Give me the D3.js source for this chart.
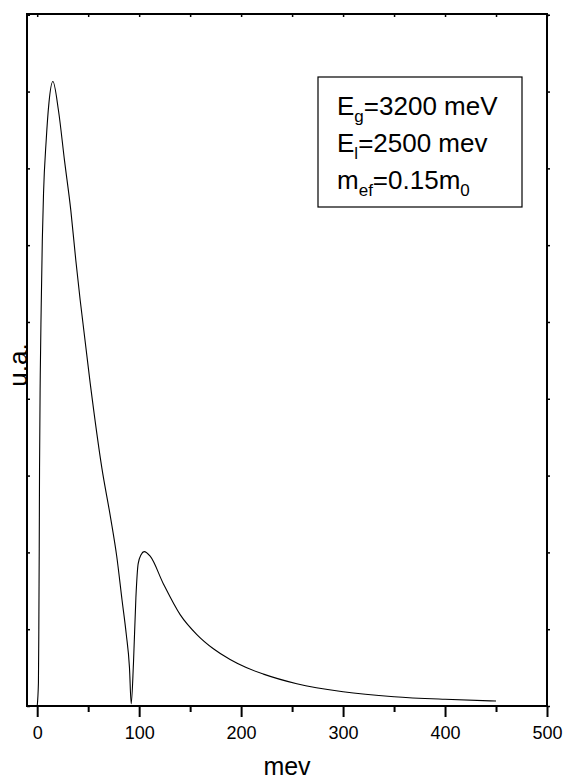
<!DOCTYPE html>
<html>
<head>
<meta charset="utf-8">
<script src="https://cdn.jsdelivr.net/npm/d3@7"></script>
<style>
html, body { margin: 0; padding: 0; background: #fff; }
svg { display: block; font-family: Arial, "Liberation Sans", sans-serif; }
</style>
</head>
<body>
<svg id="chart" width="564" height="782"></svg>
<script>
// ---- data ----
const energy = [0, 1.2, 1.6, 2.0, 2.3, 3.0, 3.9, 5.0, 6.2, 8.8, 11.5, 15.4, 20.9, 26.8, 33.0, 37.9, 42.2, 52.0, 63.4, 72.0, 78.0, 83.3, 87.3, 90.5, 92.2, 94.4, 96.8, 99.0, 101.9, 104.9, 110.8, 123.8, 140.2, 156.6, 172.8, 189.2, 205.0, 221.9, 254.6, 300, 350, 400, 450];
const intensity = [0, 0.3, 1.0, 2.05, 3.1, 4.3, 5.17, 6.05, 6.67, 7.36, 7.85, 8.13, 7.75, 7.10, 6.45, 5.80, 5.28, 4.20, 3.10, 2.45, 1.95, 1.37, 0.94, 0.5, 0.03, 0.55, 1.41, 1.85, 1.97, 2.01, 1.95, 1.59, 1.19, 0.93, 0.745, 0.605, 0.50, 0.415, 0.29, 0.186, 0.121, 0.087, 0.065];
const xMajorTicks = [0, 100, 200, 300, 400, 500];
const xMinorTicks = [50, 150, 250, 350, 450];
const yTicks = [0, 1, 2, 3, 4, 5, 6, 7, 8, 9];
const xLabel = "mev";
const yLabel = "u.a.";
const legendLines = [
  [["E", ""], ["g", "sub"], ["=3200 meV", ""]],
  [["E", ""], ["l", "sub"], ["=2500 mev", ""]],
  [["m", ""], ["ef", "sub"], ["=0.15m", ""], ["0", "sub"]]
];

// ---- layout ----
const L = 27, R = 547, T = 14, B = 706;
const svg = d3.select("#chart");
const x = d3.scaleLinear().domain([-10, 500]).range([L, R]);
const y = d3.scaleLinear().domain([0, 9]).range([B, T + 0.75]);

// curve
const pts = energy.map((e, i) => [e, intensity[i]]);
svg.append("path")
  .datum(pts)
  .attr("fill", "none")
  .attr("stroke", "#000")
  .attr("stroke-width", 1.1)
  .attr("d", d3.line().x(d => x(d[0])).y(d => y(d[1])).curve(d3.curveMonotoneX));

// bottom axis: major ticks with labels
const bottom = svg.append("g").attr("transform", `translate(0,${B})`)
  .call(d3.axisBottom(x).tickValues(xMajorTicks).tickSize(11).tickPadding(9).tickFormat(d3.format("d")));
bottom.select(".domain").remove();
bottom.selectAll(".tick line").attr("stroke-width", 2);
bottom.selectAll(".tick text").attr("font-size", 18).attr("font-family", "Arial, 'Liberation Sans', sans-serif").attr("fill", "#000");
const bottomMinor = svg.append("g").attr("transform", `translate(0,${B})`)
  .call(d3.axisBottom(x).tickValues(xMinorTicks).tickSize(6).tickFormat(""));
bottomMinor.select(".domain").remove();
bottomMinor.selectAll(".tick line").attr("stroke-width", 2);

// top axis small ticks (inward)
const topAx = svg.append("g").attr("transform", `translate(0,${T})`)
  .call(d3.axisBottom(x).tickValues(xMajorTicks.concat(xMinorTicks)).tickSize(3).tickFormat(""));
topAx.select(".domain").remove();
topAx.selectAll(".tick line").attr("stroke-width", 1.5);

// left axis small ticks (inward)
const leftAx = svg.append("g").attr("transform", `translate(${L},0)`)
  .call(d3.axisRight(y).tickValues(yTicks).tickSize(3).tickFormat(""));
leftAx.select(".domain").remove();
leftAx.selectAll(".tick line").attr("stroke-width", 1.5);

// right axis small ticks (outward)
const rightAx = svg.append("g").attr("transform", `translate(${R},0)`)
  .call(d3.axisRight(y).tickValues(yTicks).tickSize(3).tickFormat(""));
rightAx.select(".domain").remove();
rightAx.selectAll(".tick line").attr("stroke-width", 1.5);

// frame
svg.append("rect")
  .attr("x", L).attr("y", T).attr("width", R - L).attr("height", B - T)
  .attr("fill", "none").attr("stroke", "#000").attr("stroke-width", 2);

// axis labels
svg.append("text")
  .attr("x", (L + R) / 2).attr("y", 775)
  .attr("text-anchor", "middle").attr("font-size", 25).attr("fill", "#000")
  .text(xLabel);
svg.append("text")
  .attr("transform", `translate(27,365) rotate(-90)`)
  .attr("text-anchor", "middle").attr("font-size", 26).attr("fill", "#000")
  .text(yLabel);

// legend box
svg.append("rect")
  .attr("x", 318).attr("y", 77).attr("width", 204).attr("height", 130)
  .attr("fill", "#fff").attr("stroke", "#000").attr("stroke-width", 1.2);
const lg = svg.append("g");
legendLines.forEach((line, i) => {
  const t = lg.append("text")
    .attr("x", 337).attr("y", 115 + i * 37)
    .attr("font-size", 26).attr("fill", "#000");
  line.forEach(([s, kind]) => {
    const ts = t.append("tspan").text(s);
    if (kind === "sub") ts.attr("font-size", 17).attr("dy", 7);
    else if (t.selectAll("tspan").size() > 1) ts.attr("dy", -7);
  });
});
</script>
</body>
</html>
